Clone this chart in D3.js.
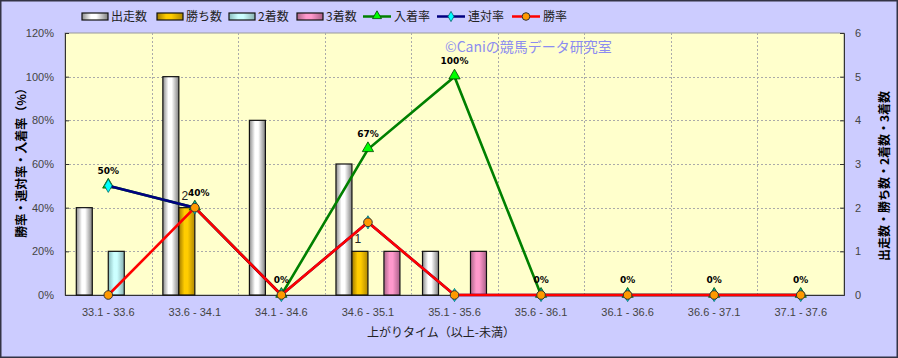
<!DOCTYPE html>
<html><head><meta charset="utf-8">
<script src="https://cdn.jsdelivr.net/npm/d3@7"></script>
<style>body{margin:0;background:#fff}svg{display:block}</style>
</head><body>
<script>
const categories = ["33.1 - 33.6","33.6 - 34.1","34.1 - 34.6","34.6 - 35.1","35.1 - 35.6","35.6 - 36.1","36.1 - 36.6","36.6 - 37.1","37.1 - 37.6"];
const starts  = [2,5,4,3,1,0,0,0,0];
const wins    = [0,2,0,1,0,0,0,0,0];
const seconds = [1,0,0,0,0,0,0,0,0];
const thirds  = [0,0,0,1,1,0,0,0,0];
const placeRate  = [50,40,0,66.7,100,0,0,0,0];
const rentaiRate = [50,40,0,33.3,0,0,0,0,0];
const winRate    = [0,40,0,33.3,0,0,0,0,0];
const placeLabels = ["50%","40%","0%","67%","100%","0%","0%","0%","0%"];
const leftTicks = [0,20,40,60,80,100,120];
const rightTicks = [0,1,2,3,4,5,6];

const W=898,H=358, L=65, R=844, T=33, B=295;
const numFont = "'Liberation Sans', Arial, sans-serif";
const jpFont = "'Noto Sans CJK JP', sans-serif";

const svg = d3.select("body").append("svg").attr("width",W).attr("height",H);
const defs = svg.append("defs");
function grad(id, edgeL, mid, edgeR){
  const g = defs.append("linearGradient").attr("id",id).attr("x1","0").attr("x2","1").attr("y1","0").attr("y2","0");
  g.append("stop").attr("offset","0%").attr("stop-color",edgeL);
  g.append("stop").attr("offset","35%").attr("stop-color",mid);
  g.append("stop").attr("offset","55%").attr("stop-color",mid);
  g.append("stop").attr("offset","100%").attr("stop-color",edgeR);
}
grad("gWhite","#8c8c8c","#ffffff","#808080");
grad("gGold","#a07a00","#ffcc00","#b08800");
grad("gCyan","#88bbbb","#ccffff","#88b0b0");
grad("gPink","#aa6688","#ff99cc","#aa5f88");

svg.append("rect").attr("x",0.75).attr("y",0.75).attr("width",W-1.5).attr("height",H-1.5)
  .attr("fill","#ccccff").attr("stroke","#333344").attr("stroke-width",1.5);

const x = d3.scaleBand().domain(categories).range([L,R]);
const inner = d3.scaleBand().domain(["s","w","2","3"]).range([11.3, x.bandwidth()-11.3]);
const yL = d3.scaleLinear().domain([0,120]).range([B,T]);
const yR = d3.scaleLinear().domain([0,6]).range([B,T]);

// plot area
svg.append("rect").attr("x",L).attr("y",T).attr("width",R-L).attr("height",B-T)
  .attr("fill","#ffffcc").attr("stroke","#999999").attr("stroke-width",1);

// grid
const grid = svg.append("g").attr("stroke","#aaaaaa").attr("stroke-dasharray","2,2").attr("stroke-width",1);
leftTicks.filter(t=>t>0&&t<120).forEach(t=>{
  grid.append("line").attr("x1",L).attr("x2",R).attr("y1",Math.round(yL(t))+0.5).attr("y2",Math.round(yL(t))+0.5);
});
categories.slice(1).forEach(c=>{
  const xx=Math.round(x(c))+0.5;
  grid.append("line").attr("x1",xx).attr("x2",xx).attr("y1",T).attr("y2",B);
});

// axes
const axL = svg.append("g").attr("transform",`translate(${L},0)`)
  .call(d3.axisLeft(yL).tickValues(leftTicks).tickSize(-4).tickPadding(11).tickFormat(d=>d+"%"));
const axR = svg.append("g").attr("transform",`translate(${R},0)`)
  .call(d3.axisRight(yR).tickValues(rightTicks).tickSize(-4).tickPadding(11).tickFormat(d3.format("d")));
const axB = svg.append("g").attr("transform",`translate(0,${B})`)
  .call(d3.axisBottom(x).tickSize(0).tickPadding(13));
[axL,axR,axB].forEach(a=>{
  a.selectAll("path.domain").attr("stroke","#333333");
  a.selectAll("line").attr("stroke","#333333");
  a.selectAll("text").attr("fill","#444444").style("font-family",numFont).style("font-size","11px");
});

// bars
const series = [
  {key:"s", vals:starts, fill:"url(#gWhite)"},
  {key:"w", vals:wins, fill:"url(#gGold)"},
  {key:"2", vals:seconds, fill:"url(#gCyan)"},
  {key:"3", vals:thirds, fill:"url(#gPink)"}
];
const bars = svg.append("g");
series.forEach(s=>{
  bars.selectAll(null).data(categories.map((c,i)=>({c,v:s.vals[i]})).filter(d=>d.v>0)).enter()
    .append("rect")
    .attr("x",d=>x(d.c)+inner(s.key))
    .attr("y",d=>yR(d.v))
    .attr("width",inner.bandwidth())
    .attr("height",d=>B-yR(d.v))
    .attr("fill",s.fill).attr("stroke","#111").attr("stroke-width",1.2);
});
// win count labels
svg.append("g").selectAll("text").data(categories.map((c,i)=>({c,v:wins[i]})).filter(d=>d.v>0)).enter()
  .append("text")
  .attr("x",d=>x(d.c)+inner("w")+inner.bandwidth()/2-2)
  .attr("y",d=>yR(d.v)-8)
  .attr("text-anchor","middle")
  .style("font-family",numFont).style("font-size","12px").attr("fill","#222")
  .text(d=>d.v);

// lines
const cx = c=>x(c)+x.bandwidth()/2;
function drawLine(vals,color){
  const line = d3.line().x((d,i)=>cx(categories[i])).y(d=>yL(d));
  svg.append("path").datum(vals).attr("d",line).attr("fill","none").attr("stroke",color).attr("stroke-width",2.6);
}
const tri = d3.symbol().type(d3.symbolTriangle).size(55);
const dia = d3.symbol().type(d3.symbolDiamond).size(50);

drawLine(placeRate,"#008000");
svg.append("g").selectAll("path").data(placeRate).enter().append("path")
  .attr("d",tri).attr("transform",(d,i)=>`translate(${cx(categories[i])},${yL(d)-1})`)
  .attr("fill","#00ff00").attr("stroke","#004400").attr("stroke-width",0.8);

drawLine(rentaiRate,"#000080");
svg.append("g").selectAll("path").data(rentaiRate).enter().append("path")
  .attr("d",dia).attr("transform",(d,i)=>`translate(${cx(categories[i])},${yL(d)})`)
  .attr("fill","#00ffff").attr("stroke","#006666").attr("stroke-width",0.8);

drawLine(winRate,"#ff0000");
svg.append("g").selectAll("circle").data(winRate).enter().append("circle")
  .attr("cx",(d,i)=>cx(categories[i])).attr("cy",d=>yL(d)).attr("r",4.3)
  .attr("fill","#ff9900").attr("stroke","#333").attr("stroke-width",1);

// percent labels
svg.append("g").selectAll("text").data(placeRate).enter().append("text")
  .attr("x",(d,i)=>cx(categories[i])+(i===1?4:0))
  .attr("y",(d,i)=>yL(d)-(i===4?13:12))
  .attr("text-anchor","middle")
  .style("font-family","'DejaVu Sans', sans-serif").style("font-size","9px").style("font-weight","bold")
  .attr("fill","#000")
  .text((d,i)=>placeLabels[i]);

// watermark
svg.append("text").attr("x",445).attr("y",52).style("font-family",jpFont).style("font-size","14px")
  .attr("fill","#8c8cf0").text("©Caniの競馬データ研究室");

// axis titles
svg.append("text").attr("transform","translate(26,160) rotate(-90)").attr("text-anchor","middle")
  .style("font-family",jpFont).style("font-size","12px").style("font-weight","bold").attr("fill","#000")
  .text("勝率・連対率・入着率（%）");
svg.append("text").attr("transform","translate(889,176) rotate(-90)").attr("text-anchor","middle")
  .style("font-family",jpFont).style("font-size","12px").style("font-weight","bold").attr("fill","#000")
  .text("出走数・勝ち数・2着数・3着数");
svg.append("text").attr("x",441).attr("y",337).attr("text-anchor","middle")
  .style("font-family",jpFont).style("font-size","12px").attr("fill","#222")
  .text("上がりタイム（以上-未満）");

// legend
const legend = svg.append("g").style("font-family",jpFont).style("font-size","12px");
const barLeg = [
  {x:82, fill:"url(#gWhite)", t:"出走数"},
  {x:157, fill:"url(#gGold)", t:"勝ち数"},
  {x:229, fill:"url(#gCyan)", t:"2着数"},
  {x:297, fill:"url(#gPink)", t:"3着数"}
];
barLeg.forEach(l=>{
  legend.append("rect").attr("x",l.x).attr("y",13).attr("width",26).attr("height",7)
    .attr("fill",l.fill).attr("stroke","#111").attr("stroke-width",1.2);
  legend.append("text").attr("x",l.x+29).attr("y",21).attr("fill","#222").text(l.t);
});
const lineLeg = [
  {x:363, color:"#008000", m:"tri", t:"入着率"},
  {x:437, color:"#000080", m:"dia", t:"連対率"},
  {x:512, color:"#ff0000", m:"cir", t:"勝率"}
];
lineLeg.forEach(l=>{
  legend.append("line").attr("x1",l.x).attr("x2",l.x+28).attr("y1",16.5).attr("y2",16.5)
    .attr("stroke",l.color).attr("stroke-width",2.5);
  const mx=l.x+14;
  if(l.m==="tri") legend.append("path").attr("d",d3.symbol().type(d3.symbolTriangle).size(35)).attr("transform",`translate(${mx},16)`).attr("fill","#00ff00").attr("stroke","#004400").attr("stroke-width",0.8);
  if(l.m==="dia") legend.append("path").attr("d",d3.symbol().type(d3.symbolDiamond).size(30)).attr("transform",`translate(${mx},16.5)`).attr("fill","#00ffff").attr("stroke","#006666").attr("stroke-width",0.8);
  if(l.m==="cir") legend.append("circle").attr("cx",mx).attr("cy",16.5).attr("r",3.8).attr("fill","#ff9900").attr("stroke","#333");
  legend.append("text").attr("x",l.x+31).attr("y",21).attr("fill","#222").text(l.t);
});
</script>
</body></html>
